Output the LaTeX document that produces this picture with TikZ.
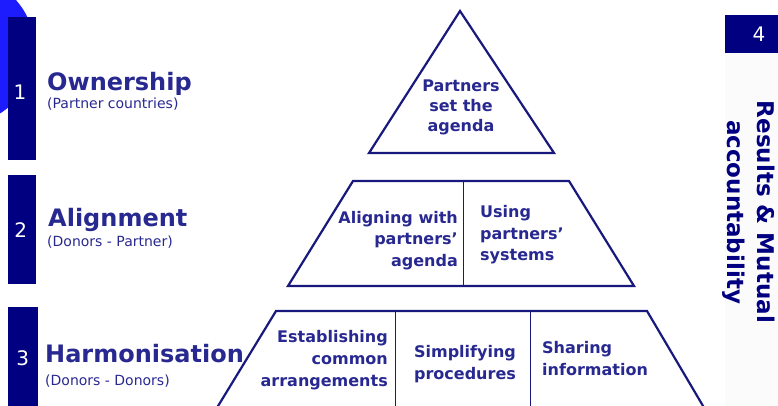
\documentclass[tikz,border=0pt]{standalone}
\usepackage{fontspec}
\setmainfont{DejaVu Sans}
\definecolor{navybar}{RGB}{0,0,128}
\definecolor{ink}{RGB}{40,40,145}
\definecolor{edge}{RGB}{25,25,125}
\definecolor{blob}{RGB}{28,28,255}
\definecolor{strip}{RGB}{251,251,252}
\begin{document}
\begin{tikzpicture}[x=1pt,y=1pt,
  bar/.style={fill=navybar,draw=none},
  num/.style={text=white,font=\fontsize{20}{24}\selectfont,inner sep=0,anchor=base},
  title/.style={text=ink,font=\bfseries\fontsize{24}{28}\selectfont,inner sep=0,anchor=base west},
  sub/.style={text=ink,font=\fontsize{14}{17}\selectfont,inner sep=0,anchor=base west},
  pline/.style={draw=edge,line width=2.2pt,line join=miter},
  divider/.style={draw=edge,line width=1pt},
  ptext/.style={text=ink,font=\bfseries\fontsize{16}{20}\selectfont,inner sep=0},
  ptextb/.style={text=ink,font=\bfseries\fontsize{16}{21.5}\selectfont,inner sep=0},
  ptextc/.style={text=ink,font=\bfseries\fontsize{16}{22}\selectfont,inner sep=0},
  rot/.style={text=navybar,font=\bfseries\fontsize{23}{28}\selectfont,inner sep=0,anchor=base,rotate=-90}
]
\useasboundingbox (0,0) rectangle (778,-406);
\begin{scope}
\clip (0,0) rectangle (778,-406);
% background shapes
\fill[blob] (-40,-50) circle (75);
\fill[strip] (725,-53) rectangle (778,-406);
% bars
\fill[bar] (8,-17) rectangle (36,-160);
\fill[bar] (8,-175) rectangle (36,-284);
\fill[bar] (8,-307) rectangle (38,-406);
\fill[bar] (725,-15) rectangle (778,-53);
% pyramid vertices
\coordinate (tA) at (460,-11);
\coordinate (tL) at (369,-153);
\coordinate (tR) at (554,-153);
\coordinate (mTL) at (353,-181);
\coordinate (mTR) at (569,-181);
\coordinate (mBL) at (288,-286);
\coordinate (mBR) at (634,-286);
\coordinate (mDT) at (463,-181);
\coordinate (mDB) at (463,-286);
\coordinate (bTL) at (276,-311);
\coordinate (bTR) at (647,-311);
\coordinate (bBL) at (215,-411);
\coordinate (bBR) at (706,-411);
\coordinate (bD1T) at (395,-311);
\coordinate (bD1B) at (395,-410);
\coordinate (bD2T) at (530,-311);
\coordinate (bD2B) at (530,-410);
% pyramid
\draw[pline] (tA) -- (tL) -- (tR) -- cycle;
\draw[pline] (mBL) -- (mTL) -- (mTR) -- (mBR) -- cycle;
\draw[divider] (mDT) -- (mDB);
\draw[pline] (bBL) -- (bTL) -- (bTR) -- (bBR);
\draw[divider] (bD1T) -- (bD1B);
\draw[divider] (bD2T) -- (bD2B);
\end{scope}
% numbers
\node[num] (n1) at (20,-100) {1};
\node[num] (n2) at (20.7,-237) {2};
\node[num] (n3) at (22.7,-365) {3};
\node[num] (n4) at (759,-42) {4};
% left labels
\node[title] (own) at (47,-90.5) {Ownership};
\node[sub] (ownsub) at (47,-109) {(Partner countries)};
\node[title] (ali) at (48,-226) {Alignment};
\node[sub] (alisub) at (47,-246) {(Donors - Partner)};
\node[title] (har) at (45,-362.7) {Harmonisation};
\node[sub] (harsub) at (45,-385) {(Donors - Donors)};
% pyramid texts (base = last line)
\node[ptext,align=center,anchor=base] (t1) at (461,-132) {Partners\\set the\\agenda};
\node[ptextb,align=right,anchor=base east] (t2a) at (458,-266) {Aligning with\\partners’\\agenda};
\node[ptextb,align=left,anchor=base west] (t2b) at (480,-260.7) {Using\\partners’\\systems};
\node[ptextc,align=right,anchor=base east] (t3a) at (388,-386) {Establishing\\common\\arrangements};
\node[ptextc,align=center,anchor=base] (t3b) at (465,-379) {Simplifying\\procedures};
\node[ptextc,align=left,anchor=base west] (t3c) at (542,-375) {Sharing\\information};
% rotated label
\node[rot] (r1) at (757,-212) {Results \& Mutual};
\node[rot] (r2) at (727,-212) {accountability};
\end{tikzpicture}
\end{document}
